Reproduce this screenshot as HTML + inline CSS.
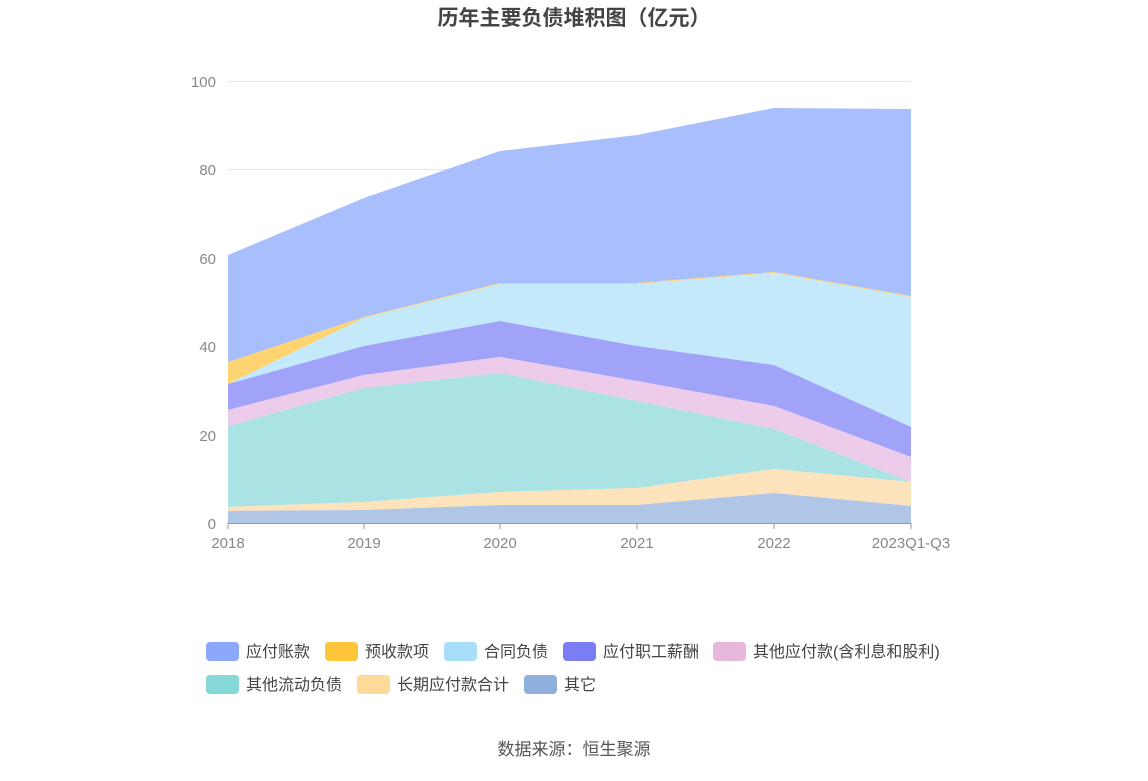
<!DOCTYPE html>
<html><head><meta charset="utf-8"><style>
body{margin:0;background:#fff;width:1148px;height:776px;overflow:hidden}
svg text{font-family:"Liberation Sans","Noto Sans CJK SC",sans-serif}
</style></head><body>
<svg width="1148" height="776" xmlns="http://www.w3.org/2000/svg">
<text x="574" y="25" text-anchor="middle" font-size="21" font-weight="bold" fill="#444">历年主要负债堆积图（亿元）</text>
<g stroke="#e6e6e6" stroke-width="1">
<line x1="228" y1="81.5" x2="911" y2="81.5"/><line x1="228" y1="169.5" x2="911" y2="169.5"/>
<line x1="228" y1="258.5" x2="911" y2="258.5"/><line x1="228" y1="346.5" x2="911" y2="346.5"/>
<line x1="228" y1="435.5" x2="911" y2="435.5"/>
</g>
<g font-size="15" fill="#888" text-anchor="end">
<text x="216" y="87">100</text><text x="216" y="175">80</text><text x="216" y="264">60</text>
<text x="216" y="352">40</text><text x="216" y="441">20</text><text x="216" y="529">0</text>
</g>
<polygon fill="#a9bffd" points="228,255 364,198 500,151 637,135 774,108 911,109 911,296 774,272 637,283 500,283 364,317 228,362"/>
<polygon fill="#fed372" points="228,362 364,317 500,283 637,283 774,272 911,296 911,297 774,273 637,284 500,284 364,318 228,384"/>
<polygon fill="#c3e9fb" points="228,384 364,318 500,284 637,284 774,273 911,297 911,427 774,365 637,346 500,321 364,346 228,384"/>
<polygon fill="#a0a3f8" points="228,384 364,346 500,321 637,346 774,365 911,427 911,457 774,406 637,381 500,357 364,375 228,410"/>
<polygon fill="#ecccea" points="228,410 364,375 500,357 637,381 774,406 911,457 911,482 774,429 637,401 500,373 364,388 228,426"/>
<polygon fill="#abe2e3" points="228,426 364,388 500,373 637,401 774,429 911,482 911,482 774,469 637,488 500,492 364,502 228,507"/>
<polygon fill="#fde3bc" points="228,507 364,502 500,492 637,488 774,469 911,482 911,506 774,493 637,505 500,505 364,510 228,511"/>
<polygon fill="#b0c6e6" points="228,511 364,510 500,505 637,505 774,493 911,506 911,523 228,523"/>
<line x1="228" y1="523.5" x2="911" y2="523.5" stroke="#999"/>
<g stroke="#999"><line x1="228" y1="523" x2="228" y2="529"/><line x1="364" y1="523" x2="364" y2="529"/><line x1="500" y1="523" x2="500" y2="529"/><line x1="637" y1="523" x2="637" y2="529"/><line x1="774" y1="523" x2="774" y2="529"/><line x1="911" y1="523" x2="911" y2="529"/></g>
<g font-size="15" fill="#888" text-anchor="middle">
<text x="228" y="548">2018</text><text x="364" y="548">2019</text><text x="500" y="548">2020</text>
<text x="637" y="548">2021</text><text x="774" y="548">2022</text><text x="911" y="548">2023Q1-Q3</text>
</g>
<g font-size="16" fill="#444">
<rect x="206" y="642" width="33" height="19" rx="4" fill="#8ca8fa"/><text x="246" y="657">应付账款</text>
<rect x="325" y="642" width="33" height="19" rx="4" fill="#ffc63c"/><text x="365" y="657">预收款项</text>
<rect x="444" y="642" width="33" height="19" rx="4" fill="#a8def8"/><text x="484" y="657">合同负债</text>
<rect x="563" y="642" width="33" height="19" rx="4" fill="#7b7df2"/><text x="603" y="657">应付职工薪酬</text>
<rect x="713" y="642" width="33" height="19" rx="4" fill="#e8b7dc"/><text x="753" y="657">其他应付款(含利息和股利)</text>
<rect x="206" y="675" width="33" height="19" rx="4" fill="#86d8d8"/><text x="246" y="690">其他流动负债</text>
<rect x="357" y="675" width="33" height="19" rx="4" fill="#fdd99a"/><text x="397" y="690">长期应付款合计</text>
<rect x="524" y="675" width="33" height="19" rx="4" fill="#8fb0dd"/><text x="564" y="690">其它</text>
</g>
<text x="574" y="755" text-anchor="middle" font-size="17" fill="#555">数据来源：恒生聚源</text>
</svg>
</body></html>
